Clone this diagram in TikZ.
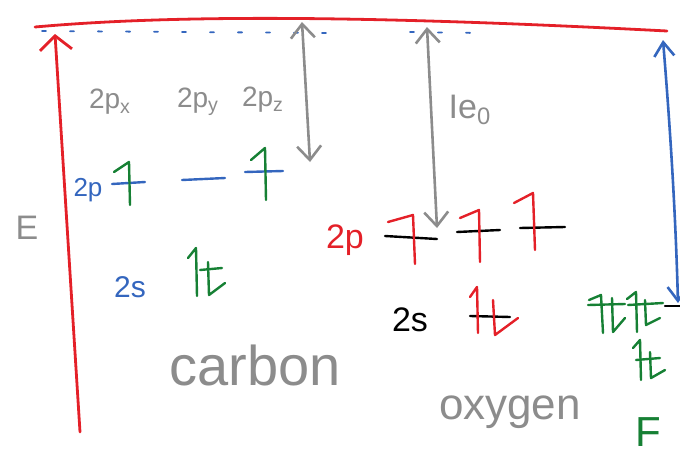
\documentclass[tikz,border=0pt]{standalone}
\usepackage{fontspec}
\setmainfont{Liberation Sans}
\usetikzlibrary{arrows.meta}
\definecolor{pred}{RGB}{228,32,40}
\definecolor{pblue}{RGB}{52,102,190}
\definecolor{pgreen}{RGB}{22,128,52}
\definecolor{pgray}{RGB}{140,140,140}
\begin{document}
\begin{tikzpicture}[x=0.5pt,y=-0.5pt,line cap=round,line join=round,
  pen/.style={line width=1.4pt},
  thinpen/.style={line width=1.2pt},
  redhead/.style={-{Straight Barb[length=7pt,width=16pt,line width=1.4pt]}},
  grayboth/.style={pgray,line width=1.3pt,{Straight Barb[length=7pt,width=12pt,line width=1.3pt]}-{Straight Barb[length=7pt,width=12pt,line width=1.3pt]}},
  blueboth/.style={pblue,line width=1.3pt,{Straight Barb[length=7pt,width=10pt,line width=1.3pt]}-{Straight Barb[length=7pt,width=10pt,line width=1.3pt]}},
  lab/.style={inner sep=0pt,font=\fontsize{14}{16}\selectfont},
  big/.style={inner sep=0pt,font=\fontsize{28}{30}\selectfont},
  mid/.style={inner sep=0pt,font=\fontsize{22}{24}\selectfont},
  level/.style={thinpen},
  spin/.style={thinpen}]
\useasboundingbox (0,0) rectangle (680,461);
% top energy line (vacuum level)
\coordinate (topl) at (35,27);
\coordinate (topr) at (667,31);
\draw[pred,pen] (topl) .. controls (180,14) and (380,16) .. (topr);
\draw[pblue,line width=0.9pt,dash pattern=on 2pt off 12pt] (42,31) -- (330,33);
\draw[pblue,line width=0.9pt,dash pattern=on 2pt off 12pt] (410,32) -- (480,33);
% energy axis
\coordinate (axbot) at (80,432);
\coordinate (axtop) at (55,34);
\draw[pred,pen,redhead] (axbot) -- (axtop);
\node[lab,pgray,font=\fontsize{17}{19}\selectfont] (E) at (27,228) {E};
% gray double arrows
\coordinate (g1top) at (302,22);
\coordinate (g1bot) at (310,162);
\draw[grayboth] (g1top) -- (g1bot);
\coordinate (g2top) at (427,27);
\coordinate (g2bot) at (437,228);
\draw[grayboth] (g2top) -- (g2bot);
\node[lab,pgray,font=\fontsize{17}{19}\selectfont] (IE) at (470,110) {Ie\textsubscript{0}};
% blue arrow at right
\coordinate (b1top) at (663,40);
\coordinate (b1bot) at (678,303);
\draw[blueboth] (b1top) .. controls (672,150) and (676,230) .. (b1bot);
% carbon labels
\node[lab,pgray] (px) at (110,102) {2p\textsubscript{x}};
\node[lab,pgray] (py) at (198,102) {2p\textsubscript{y}};
\node[lab,pgray] (pz) at (263,100) {2p\textsubscript{z}};
\node[lab,pblue,font=\fontsize{13}{15}\selectfont] (c2p) at (88,190) {2p};
\node[lab,pblue,font=\fontsize{15}{17}\selectfont] (c2s) at (130,287) {2s};
\node[big,pgray] (carbon) at (255,365) {carbon};
% carbon 2p levels
\draw[pblue,level] (112,184) -- (145,182);
\draw[pblue,level] (182,180) -- (225,178);
\draw[pblue,level] (245,172) -- (283,171);
\draw[pgreen,spin] (130,205) -- (129,162) -- (114,172);
\draw[pgreen,spin] (266,200) -- (265,148) -- (251,160);
% carbon 2s
\draw[pgreen,level] (200,270) -- (222,268);
\draw[pgreen,spin] (197,296) -- (196,248) -- (188,258);
\draw[pgreen,spin] (208,262) -- (209,295) -- (225,283);
% oxygen
\node[lab,pred,font=\fontsize{17}{19}\selectfont] (o2p) at (345,240) {2p};
\node[lab,black,font=\fontsize{17}{19}\selectfont] (o2s) at (410,320) {2s};
\node[mid,pgray] (oxygen) at (510,412) {oxygen};
\draw[black,level] (385,236) -- (437,239);
\draw[black,level] (457,232) -- (500,230);
\draw[black,level] (520,228) -- (565,227);
\draw[pred,spin] (415,264) -- (413,215) -- (388,222);
\draw[pred,spin] (480,262) -- (479,210) -- (460,218);
\draw[pred,spin] (535,250) -- (533,193) -- (514,203);
\draw[black,level] (470,316) -- (510,317);
\draw[pred,spin] (478,333) -- (477,287) -- (470,297);
\draw[pred,spin] (493,300) -- (495,335) -- (518,318);
% fluorine
\draw[black,level] (665,306) -- (680,306);
\draw[pgreen,level] (588,305) -- (625,304);
\draw[pgreen,level] (628,305) -- (663,303);
\draw[pgreen,spin] (603,333) -- (601,295) -- (589,300);
\draw[pgreen,spin] (612,298) -- (613,332) -- (625,318);
\draw[pgreen,spin] (637,332) -- (636,292) -- (627,299);
\draw[pgreen,spin] (645,300) -- (646,325) -- (660,318);
\draw[pgreen,level] (636,360) -- (660,358);
\draw[pgreen,spin] (641,380) -- (640,340) -- (633,348);
\draw[pgreen,spin] (650,352) -- (651,378) -- (665,370);
\node[lab,pgreen,font=\fontsize{21}{23}\selectfont] (F) at (648,432) {F};
\end{tikzpicture}
\end{document}
